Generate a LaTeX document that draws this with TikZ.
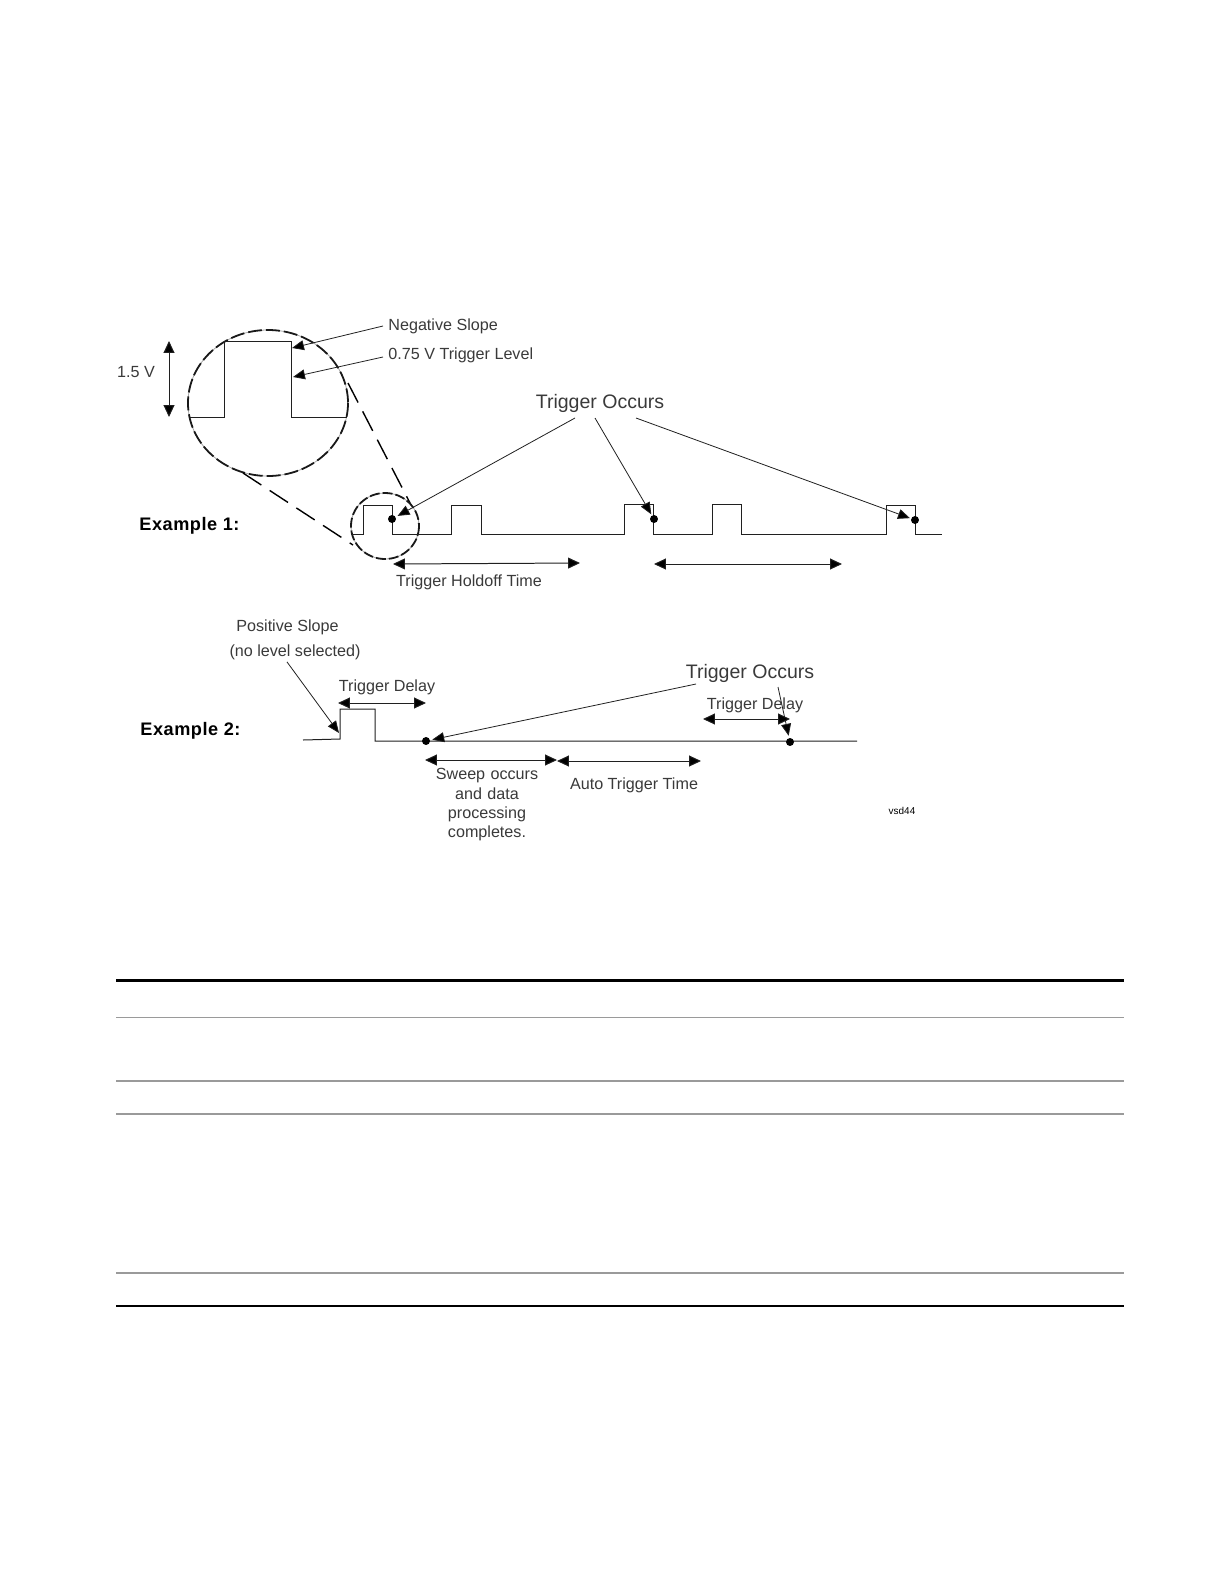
\documentclass[tikz,border=0pt]{standalone}
\usepackage{fontspec}
\setmainfont{Liberation Sans}
\usetikzlibrary{arrows.meta}
\definecolor{inktext}{HTML}{3A3A3A}
\definecolor{wave}{HTML}{202020}
\definecolor{rulegray}{HTML}{9A9A9A}
\newfontfamily\widesans[LetterSpace=3]{Liberation Sans}
\tikzset{
  lbl/.style={text=inktext, font=\fontsize{8.1}{10}\selectfont, inner sep=0pt},
  biglbl/.style={text=inktext, font=\fontsize{9.8}{12}\selectfont, inner sep=0pt},
  exlbl/.style={text=black, font=\widesans\fontsize{9.1}{10}\selectfont\bfseries, inner sep=0pt},
  wavel/.style={draw=wave, line width=0.5pt},
  lead/.style={draw=wave, line width=0.4pt, -{Triangle[length=6pt,width=5pt,fill=black]}},
  span/.style={draw=wave, line width=0.5pt, {Triangle[length=6pt,width=5.5pt,fill=black]}-{Triangle[length=6pt,width=5.5pt,fill=black]}},
  zoomg/.style={draw=black!35, line width=0.4pt},
  zoomc/.style={draw=black!90, line width=0.9pt, dash pattern=on 7pt off 2pt},
  zooml/.style={draw=black, line width=0.7pt, dash pattern=on 11pt off 5pt},
  trig/.style={circle, fill=black, inner sep=0pt, minimum size=4pt},
  tabrule/.style={draw=rulegray, line width=1pt},
  tabedge/.style={draw=black, line width=1pt},
}
\begin{document}
\begin{tikzpicture}[x=0.5bp,y=-0.5bp]
\useasboundingbox (0,0) rectangle (1224,1584);
\fill[white] (0,0) rectangle (1224,1584);

% magnified pulse
\draw[zoomg] (268,403) ellipse [x radius=80, y radius=73];
\draw[zoomc] (268,403) ellipse [x radius=80, y radius=73];
\draw[wavel] (190,417) -- (224,417) -- (224,341) -- (291,341) -- (291,417) -- (347,417);
\draw[zooml] (348,383) -- (410,503);
\draw[zooml] (243,473) -- (353,545);

\node[lbl] (volts) at (136,372.5) {1.5 V};
\coordinate (voltsT) at (169,341);
\coordinate (voltsB) at (169,417);
\draw[span] (voltsT) -- (voltsB);

\node[lbl,anchor=west] (negslope) at (388,326) {Negative Slope};
\node[lbl,anchor=west] (trglevel) at (388,355) {0.75 V Trigger Level};
\coordinate (negslopeP) at (292,348);
\coordinate (trglevelP) at (293,377);
\draw[lead] (negslope.west) ++(-5,0) -- (negslopeP);
\draw[lead] (trglevel.west) ++(-5,2) -- (trglevelP);

% example 1
\node[exlbl,anchor=west] (exone) at (139,525.5) {Example 1:};
\draw[zoomg] (385,526) ellipse [x radius=34, y radius=33];
\draw[zoomc,dash pattern=on 5pt off 1.5pt] (385,526) ellipse [x radius=34, y radius=33];
\draw[wavel] (351,534) -- (363,534) -- (363,505) -- (392,505) -- (392,534) -- (451,534)
  -- (451,505) -- (481,505) -- (481,534) -- (624,534) -- (624,504) -- (653,504)
  -- (653,534) -- (712,534) -- (712,504) -- (741,504) -- (741,534) -- (886,534)
  -- (886,505) -- (915,505) -- (915,534) -- (942,534);
\node[trig] (dotA) at (392,519) {};
\node[trig] (dotB) at (654,519) {};
\node[trig] (dotC) at (915,520) {};

\node[biglbl] (occursA) at (600,403) {Trigger Occurs};
\coordinate (occAa) at (575,418);
\coordinate (occAb) at (595,418);
\coordinate (occAc) at (636,418);
\draw[lead,shorten >=1pt] (occAa) -- (dotA);
\draw[lead,shorten >=0.5pt] (occAb) -- (dotB);
\draw[lead,shorten >=0.5pt] (occAc) -- (dotC);

\coordinate (holdAl) at (393,564);
\coordinate (holdAr) at (580,563);
\coordinate (holdBl) at (654,564);
\coordinate (holdBr) at (842,564);
\draw[span] (holdAl) -- (holdAr);
\draw[span] (holdBl) -- (holdBr);
\node[lbl] (holdoff) at (469,582.5) {Trigger Holdoff Time};

% example 2
\node[exlbl,anchor=west] (extwo) at (140,730.5) {Example 2:};
\draw[wavel] (303,740) -- (340,739) -- (340,709) -- (375,709) -- (375,741) -- (857,741);
\node[trig] (dotD) at (426,741) {};
\node[trig] (dotE) at (790,742) {};

\node[lbl] (posslope) at (287.5,627) {Positive Slope};
\node[lbl] (nolevel) at (295,652) {(no level selected)};
\coordinate (posP) at (339,733);
\draw[lead] (nolevel.south) ++(-8,2) -- (posP);

\node[lbl] (delayA) at (387,687.5) {Trigger Delay};
\coordinate (delayAl) at (338,703);
\coordinate (delayAr) at (426,703);
\draw[span] (delayAl) -- (delayAr);

\node[biglbl] (occursB) at (750,673) {Trigger Occurs};
\coordinate (occBa) at (696,684);
\coordinate (occBb) at (778,687);
\draw[lead,shorten >=1pt] (occBa) -- (dotD);
\draw[lead,shorten >=1pt] (occBb) -- (dotE);

\node[lbl] (delayB) at (755,705) {Trigger Delay};
\coordinate (delayBl) at (703,719);
\coordinate (delayBr) at (790,719);
\draw[span] (delayBl) -- (delayBr);

\coordinate (sweepl) at (425,760);
\coordinate (sweepr) at (557,760);
\coordinate (autol) at (557,761);
\coordinate (autor) at (701,761);
\draw[span] (sweepl) -- (sweepr);
\draw[span] (autol) -- (autor);

\node[lbl,align=center,text width=120pt,font=\fontsize{8.1}{9.7}\selectfont] (sweep) at (487,805) {Sweep occurs\\and data\\processing\\completes.};
\node[lbl] (auto) at (634,785) {Auto Trigger Time};
\node[text=black,font=\fontsize{5}{6}\selectfont,inner sep=0pt] (figid) at (902,811) {vsd44};

% table rules
\draw[tabedge,line width=1.5pt] (116,980.5) -- (1124,980.5);
\draw[tabrule,line width=0.6pt] (116,1017.5) -- (1124,1017.5);
\draw[tabrule] (116,1081) -- (1124,1081);
\draw[tabrule] (116,1114) -- (1124,1114);
\draw[tabrule] (116,1273) -- (1124,1273);
\draw[tabedge] (116,1306) -- (1124,1306);
\end{tikzpicture}
\end{document}
